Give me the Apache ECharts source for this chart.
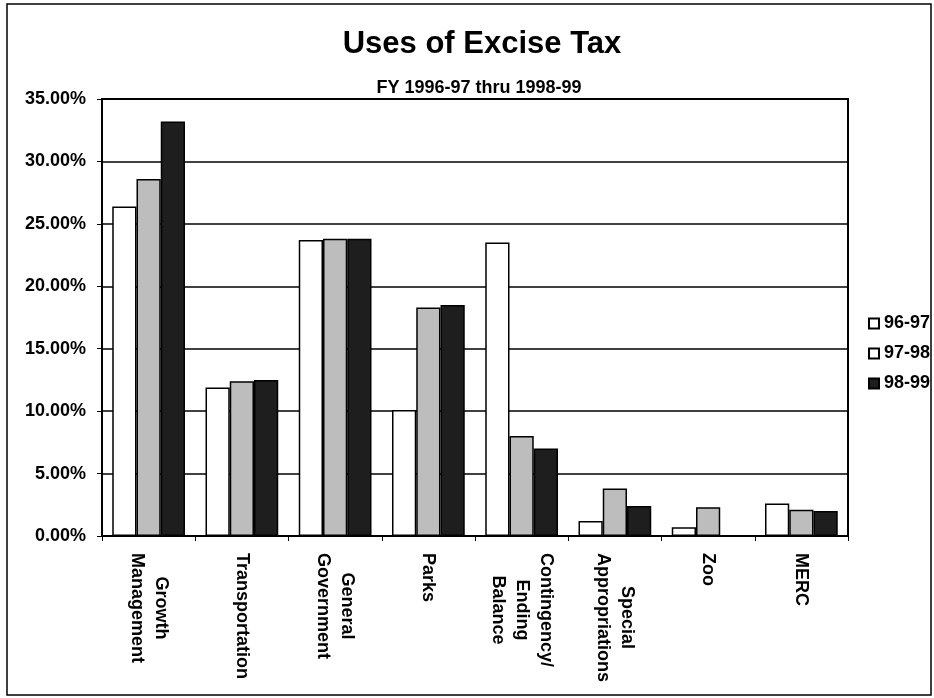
<!DOCTYPE html>
<html>
<head>
<meta charset="utf-8">
<script src="https://cdn.jsdelivr.net/npm/echarts@6/dist/echarts.min.js"></script>
<style>
html,body{margin:0;padding:0;background:#fff;}
#chart{width:934px;height:698px;}
</style>
</head>
<body>
<div id="chart"></div>
<script>
var categories = ['Growth\nManagement', 'Transportation', 'General\nGovernment', 'Parks', 'Contingency/\nEnding\nBalance', 'Special\nAppropriations', 'Zoo', 'MERC'];
var seriesNames = ['96-97', '97-98', '98-99'];
var fy9697 = [26.4, 11.9, 23.7, 10.1, 23.5, 1.2, 0.7, 2.6];
var fy9798 = [28.6, 12.4, 23.8, 18.3, 8.0, 3.8, 2.3, 2.1];
var fy9899 = [33.2, 12.5, 23.8, 18.5, 7.0, 2.4, 0, 2.0];
var titleText = 'Uses of Excise Tax';
var subtitleText = 'FY 1996-97 thru 1998-99';

var FONT = '"Liberation Sans", Arial, sans-serif';
var chart = echarts.init(document.getElementById('chart'), null, {renderer: 'canvas'});

function barSeries(name, data, color) {
  return {
    name: name,
    type: 'bar',
    data: data,
    barGap: '0%',
    barCategoryGap: '22%',
    itemStyle: {color: color, borderColor: '#000', borderWidth: 1.5},
    emphasis: {disabled: true}
  };
}

var option = {
  backgroundColor: '#fff',
  animation: false,
  title: [
    {text: titleText, left: 477, top: 24, textAlign: 'center',
     textStyle: {fontFamily: FONT, fontWeight: 'bold', fontSize: 31, color: '#000'}},
    {text: subtitleText, left: 474, top: 74, textAlign: 'center',
     textStyle: {fontFamily: FONT, fontWeight: 'bold', fontSize: 18, color: '#000'}}
  ],
  legend: {
    orient: 'vertical',
    left: 868,
    top: 314,
    padding: 0,
    itemWidth: 10,
    itemHeight: 10,
    itemGap: 11,
    icon: 'rect',
    textStyle: {fontFamily: FONT, fontWeight: 'bold', fontSize: 18, color: '#000', lineHeight: 19},
    data: [
      {name: seriesNames[0]},
      {name: seriesNames[1], itemStyle: {color: '#fff'}},
      {name: seriesNames[2]}
    ]
  },
  grid: {
    left: 102, right: 86, top: 99, bottom: 162,
    show: true, borderColor: '#000', borderWidth: 2, backgroundColor: '#fff',
    containLabel: false, outerBoundsMode: 'none'
  },
  xAxis: {
    type: 'category',
    data: categories,
    boundaryGap: true,
    axisLine: {show: true, lineStyle: {color: '#000', width: 2}},
    axisTick: {show: true, alignWithLabel: false, length: 5, lineStyle: {color: '#000', width: 1}},
    axisLabel: {
      rotate: -90,
      interval: 0,
      margin: 17,
      color: '#000',
      fontFamily: FONT,
      fontWeight: 'bold',
      fontSize: 18,
      lineHeight: 24,
      formatter: function (v) {
        return v.split('\n').map(function (s) { return '{c|' + s + '}'; }).join('\n');
      },
      rich: {
        c: {align: 'center', fontFamily: FONT, fontWeight: 'bold', fontSize: 18, lineHeight: 24, color: '#000'}
      }
    },
    splitLine: {show: false}
  },
  yAxis: {
    type: 'value',
    min: 0,
    max: 35,
    interval: 5,
    axisLine: {show: true, lineStyle: {color: '#000', width: 2}},
    axisTick: {show: true, length: 5, lineStyle: {color: '#000', width: 1}},
    axisLabel: {
      margin: 16,
      color: '#000',
      fontFamily: FONT,
      fontWeight: 'bold',
      fontSize: 18,
      formatter: function (v) { return v.toFixed(2) + '%'; }
    },
    splitLine: {show: true, lineStyle: {color: '#000', width: 1.5}}
  },
  graphic: [{
    type: 'rect',
    shape: {x: 7, y: 4, width: 924, height: 691},
    style: {fill: 'none', stroke: '#000', lineWidth: 1.5},
    silent: true,
    z: 100
  }],
  series: [
    barSeries(seriesNames[0], fy9697, '#ffffff'),
    barSeries(seriesNames[1], fy9798, '#bdbdbd'),
    barSeries(seriesNames[2], fy9899, '#1e1e1e')
  ]
};
chart.setOption(option);
</script>
</body>
</html>
